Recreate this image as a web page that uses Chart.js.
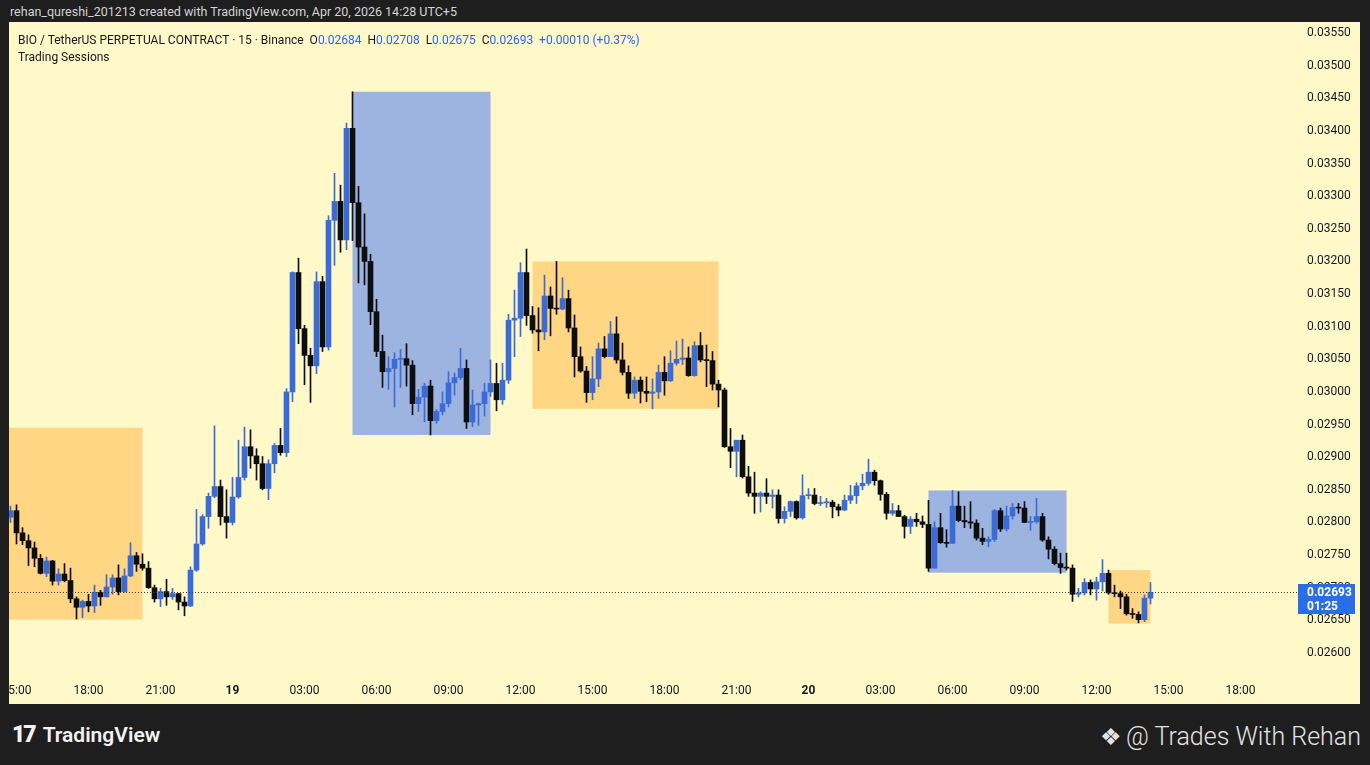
<!DOCTYPE html>
<html>
<head>
<meta charset="utf-8">
<title>BIO / TetherUS 15m</title>
<script src="https://cdn.jsdelivr.net/npm/chart.js@4.4.1/dist/chart.umd.min.js"></script>
<style>
  body { margin: 0; width: 1370px; height: 765px; overflow: hidden; background: #1e1e1e; position: relative; font-family: Roboto, "Noto Sans", sans-serif; }
  #top { position: absolute; left: 10px; top: 4px; color: #d4d4d4; font-size: 12.5px; line-height: 16px; }
  #panel { position: absolute; left: 9px; top: 22px; width: 1351px; height: 682px; background: #fff9c9; }
  #grafico { display: block; }
  #legend { position: absolute; left: 9px; top: 10px; font-size: 12px; line-height: 17px; color: #131722; white-space: pre; }
  #legend .v { color: #2962ff; }
  #tvlogo { position: absolute; left: 12px; top: 721px; color: #f2f2f2; font-size: 21px; font-weight: 600; line-height: 28px; }
  #tvlogo b { font-weight: 900; font-size: 23px; letter-spacing: -2px; margin-right: 8px; }
  #author { position: absolute; right: 9px; top: 722px; color: #e3e3e3; font-size: 25px; font-weight: 300; line-height: 30px; }
  #author span { font-size: 24px; margin-right: 4px; }
</style>
</head>
<body>
<div id="top">rehan_qureshi_201213 created with TradingView.com, Apr 20, 2026 14:28 UTC+5</div>
<div id="panel">
  <canvas id="grafico" width="1351" height="682"></canvas>
  <div id="legend">BIO / TetherUS PERPETUAL CONTRACT · 15 · Binance  O<span class="v">0.02684</span>  H<span class="v">0.02708</span>  L<span class="v">0.02675</span>  C<span class="v">0.02693</span>  <span class="v">+0.00010 (+0.37%)</span>
Trading Sessions</div>
</div>
<div id="tvlogo"><b>17</b>TradingView</div>
<div id="author"><span>❖</span>@ Trades With Rehan</div>

<script>
// 15 minute candles, slot 0 = Apr 18 15:00 (UTC+5), first candle is slot -1
var firstSlot = -1;

var opens = [0.02808,
  0.02818, 0.02784, 0.02772, 0.02761, 0.02745, 0.02722, 0.02741, 0.02710, 0.02721, 0.02711,
  0.02683, 0.02670, 0.02679, 0.02672, 0.02693, 0.02686, 0.02701, 0.02715, 0.02694, 0.02718,
  0.02749, 0.02736, 0.02730, 0.02700, 0.02683, 0.02694, 0.02686, 0.02691, 0.02678, 0.02672,
  0.02727, 0.02767, 0.02809, 0.02840, 0.02855, 0.02809, 0.02800, 0.02839, 0.02869, 0.02916,
  0.02902, 0.02890, 0.02852, 0.02890, 0.02918, 0.02907, 0.03000, 0.03183, 0.03097, 0.03056,
  0.03040, 0.03169, 0.03069, 0.03263, 0.03292, 0.03233, 0.03404, 0.03290, 0.03222, 0.03200,
  0.03123, 0.03062, 0.03031, 0.03036, 0.03050, 0.03051, 0.03041, 0.02982, 0.02992, 0.03009,
  0.02956, 0.02970, 0.02982, 0.03014, 0.03022, 0.03036, 0.02954, 0.02980, 0.02982, 0.03000,
  0.03013, 0.02988, 0.03018, 0.03110, 0.03113, 0.03183, 0.03117, 0.03095, 0.03092, 0.03147,
  0.03128, 0.03127, 0.03143, 0.03098, 0.03054, 0.03032, 0.02999, 0.03020, 0.03066, 0.03054,
  0.03089, 0.03049, 0.03030, 0.02998, 0.03018, 0.03001, 0.02998, 0.03000, 0.03030, 0.03017,
  0.03044, 0.03050, 0.03052, 0.03025, 0.03071, 0.03049, 0.03048, 0.03012, 0.03003, 0.02916,
  0.02909, 0.02926, 0.02870, 0.02845, 0.02840, 0.02845, 0.02840, 0.02842, 0.02806, 0.02817,
  0.02832, 0.02807, 0.02841, 0.02842, 0.02829, 0.02830, 0.02831, 0.02824, 0.02819, 0.02834,
  0.02841, 0.02856, 0.02860, 0.02877, 0.02864, 0.02843, 0.02814, 0.02818, 0.02809, 0.02794,
  0.02805, 0.02801, 0.02797, 0.02730, 0.02792, 0.02769, 0.02768, 0.02825, 0.02803, 0.02801,
  0.02799, 0.02776, 0.02771, 0.02774, 0.02818, 0.02790, 0.02810, 0.02823, 0.02822, 0.02800,
  0.02801, 0.02809, 0.02773, 0.02759, 0.02737, 0.02731, 0.02730, 0.02690, 0.02692, 0.02708,
  0.02698, 0.02709, 0.02722, 0.02692, 0.02691, 0.02686, 0.02660, 0.02659, 0.02651, 0.02684];

var highs = [0.02825,
  0.02827, 0.02792, 0.02781, 0.02770, 0.02751, 0.02747, 0.02742, 0.02729, 0.02737, 0.02730,
  0.02686, 0.02681, 0.02690, 0.02704, 0.02696, 0.02720, 0.02720, 0.02735, 0.02729, 0.02769,
  0.02754, 0.02752, 0.02740, 0.02704, 0.02699, 0.02713, 0.02699, 0.02691, 0.02686, 0.02732,
  0.02820, 0.02812, 0.02845, 0.02948, 0.02865, 0.02850, 0.02869, 0.02926, 0.02946, 0.02942,
  0.02913, 0.02901, 0.02896, 0.02921, 0.02944, 0.03005, 0.03184, 0.03205, 0.03102, 0.03067,
  0.03184, 0.03177, 0.03270, 0.03335, 0.03317, 0.03412, 0.03460, 0.03315, 0.03273, 0.03211,
  0.03142, 0.03087, 0.03054, 0.03060, 0.03065, 0.03074, 0.03048, 0.03004, 0.03013, 0.03018,
  0.02973, 0.03000, 0.03031, 0.03029, 0.03067, 0.03049, 0.03003, 0.02983, 0.03013, 0.03049,
  0.03044, 0.03044, 0.03119, 0.03156, 0.03198, 0.03219, 0.03131, 0.03129, 0.03179, 0.03161,
  0.03200, 0.03175, 0.03156, 0.03118, 0.03069, 0.03039, 0.03054, 0.03075, 0.03085, 0.03108,
  0.03115, 0.03075, 0.03040, 0.03023, 0.03023, 0.03023, 0.03020, 0.03041, 0.03054, 0.03063,
  0.03078, 0.03081, 0.03069, 0.03077, 0.03091, 0.03072, 0.03062, 0.03018, 0.03006, 0.02944,
  0.02926, 0.02934, 0.02886, 0.02877, 0.02847, 0.02867, 0.02850, 0.02850, 0.02824, 0.02833,
  0.02833, 0.02873, 0.02852, 0.02852, 0.02840, 0.02837, 0.02834, 0.02828, 0.02842, 0.02857,
  0.02861, 0.02874, 0.02897, 0.02880, 0.02865, 0.02846, 0.02829, 0.02826, 0.02811, 0.02809,
  0.02814, 0.02810, 0.02834, 0.02801, 0.02814, 0.02789, 0.02849, 0.02847, 0.02825, 0.02832,
  0.02804, 0.02791, 0.02778, 0.02820, 0.02822, 0.02825, 0.02829, 0.02829, 0.02832, 0.02809,
  0.02837, 0.02814, 0.02778, 0.02763, 0.02753, 0.02753, 0.02735, 0.02699, 0.02714, 0.02712,
  0.02716, 0.02743, 0.02727, 0.02704, 0.02695, 0.02690, 0.02668, 0.02663, 0.02689, 0.02708];

var lows = [0.02800,
  0.02767, 0.02766, 0.02734, 0.02732, 0.02721, 0.02717, 0.02704, 0.02704, 0.02709, 0.02677,
  0.02652, 0.02654, 0.02663, 0.02662, 0.02673, 0.02686, 0.02690, 0.02689, 0.02693, 0.02717,
  0.02725, 0.02727, 0.02699, 0.02678, 0.02671, 0.02673, 0.02682, 0.02666, 0.02657, 0.02671,
  0.02725, 0.02765, 0.02791, 0.02838, 0.02796, 0.02776, 0.02796, 0.02837, 0.02865, 0.02883,
  0.02865, 0.02850, 0.02835, 0.02876, 0.02903, 0.02901, 0.02985, 0.03074, 0.03011, 0.02984,
  0.03028, 0.03062, 0.03064, 0.03194, 0.03214, 0.03218, 0.03232, 0.03167, 0.03164, 0.03103,
  0.03054, 0.03007, 0.03004, 0.02977, 0.03007, 0.03009, 0.02965, 0.02970, 0.02954, 0.02934,
  0.02952, 0.02965, 0.02977, 0.02995, 0.03019, 0.02944, 0.02947, 0.02949, 0.02963, 0.02993,
  0.02971, 0.02981, 0.03013, 0.03054, 0.03085, 0.03102, 0.03090, 0.03063, 0.03080, 0.03086,
  0.03119, 0.03126, 0.03092, 0.03023, 0.03030, 0.02984, 0.02988, 0.03008, 0.03052, 0.03054,
  0.03044, 0.03026, 0.02990, 0.02990, 0.02983, 0.02985, 0.02974, 0.02990, 0.02995, 0.03016,
  0.03041, 0.03042, 0.03024, 0.03024, 0.03046, 0.03008, 0.03003, 0.02977, 0.02915, 0.02884,
  0.02870, 0.02868, 0.02840, 0.02814, 0.02816, 0.02829, 0.02822, 0.02799, 0.02799, 0.02809,
  0.02805, 0.02805, 0.02836, 0.02827, 0.02826, 0.02823, 0.02807, 0.02810, 0.02818, 0.02829,
  0.02829, 0.02850, 0.02857, 0.02857, 0.02834, 0.02805, 0.02811, 0.02809, 0.02776, 0.02783,
  0.02794, 0.02792, 0.02725, 0.02730, 0.02768, 0.02762, 0.02768, 0.02801, 0.02792, 0.02791,
  0.02773, 0.02766, 0.02763, 0.02771, 0.02786, 0.02787, 0.02805, 0.02814, 0.02800, 0.02788,
  0.02799, 0.02771, 0.02744, 0.02735, 0.02722, 0.02727, 0.02679, 0.02686, 0.02689, 0.02689,
  0.02681, 0.02695, 0.02690, 0.02686, 0.02668, 0.02658, 0.02653, 0.02646, 0.02648, 0.02675];

var closes = [0.02818,
  0.02784, 0.02772, 0.02761, 0.02745, 0.02722, 0.02741, 0.02710, 0.02721, 0.02711, 0.02683,
  0.02670, 0.02679, 0.02672, 0.02693, 0.02686, 0.02701, 0.02715, 0.02694, 0.02718, 0.02749,
  0.02736, 0.02730, 0.02700, 0.02683, 0.02694, 0.02686, 0.02691, 0.02678, 0.02672, 0.02727,
  0.02767, 0.02809, 0.02840, 0.02855, 0.02809, 0.02800, 0.02839, 0.02869, 0.02916, 0.02902,
  0.02890, 0.02852, 0.02890, 0.02918, 0.02907, 0.03000, 0.03183, 0.03097, 0.03056, 0.03040,
  0.03169, 0.03069, 0.03263, 0.03292, 0.03233, 0.03404, 0.03290, 0.03222, 0.03200, 0.03123,
  0.03062, 0.03031, 0.03036, 0.03050, 0.03051, 0.03041, 0.02982, 0.02992, 0.03009, 0.02956,
  0.02970, 0.02982, 0.03014, 0.03022, 0.03036, 0.02954, 0.02980, 0.02982, 0.03000, 0.03013,
  0.02988, 0.03018, 0.03110, 0.03113, 0.03183, 0.03117, 0.03095, 0.03092, 0.03147, 0.03128,
  0.03127, 0.03143, 0.03098, 0.03054, 0.03032, 0.02999, 0.03020, 0.03066, 0.03054, 0.03089,
  0.03049, 0.03030, 0.02998, 0.03018, 0.03001, 0.02998, 0.03000, 0.03030, 0.03017, 0.03044,
  0.03050, 0.03052, 0.03025, 0.03071, 0.03049, 0.03048, 0.03012, 0.03003, 0.02916, 0.02909,
  0.02926, 0.02870, 0.02845, 0.02840, 0.02845, 0.02840, 0.02842, 0.02806, 0.02817, 0.02832,
  0.02807, 0.02841, 0.02842, 0.02829, 0.02830, 0.02831, 0.02824, 0.02819, 0.02834, 0.02841,
  0.02856, 0.02860, 0.02877, 0.02864, 0.02843, 0.02814, 0.02818, 0.02809, 0.02794, 0.02805,
  0.02801, 0.02797, 0.02730, 0.02792, 0.02769, 0.02768, 0.02825, 0.02803, 0.02801, 0.02799,
  0.02776, 0.02771, 0.02774, 0.02818, 0.02790, 0.02810, 0.02823, 0.02822, 0.02800, 0.02801,
  0.02809, 0.02773, 0.02759, 0.02737, 0.02731, 0.02730, 0.02690, 0.02692, 0.02708, 0.02698,
  0.02709, 0.02722, 0.02692, 0.02691, 0.02686, 0.02660, 0.02659, 0.02651, 0.02684, 0.02693];

// trading session boxes (slots are first and last candle of the session)
var sessionStart = [-10, 56, 86, 152, 182];
var sessionEnd = [21, 79, 117, 175, 189];
var sessionHigh = [0.02945, 0.03460, 0.03200, 0.02849, 0.02727];
var sessionLow = [0.02651, 0.02934, 0.02974, 0.02723, 0.02645];
var sessionType = ['london', 'asia', 'london', 'asia', 'london'];

// time axis labels, one every 12 candles starting at slot 0
var tickLabels = ['15:00', '18:00', '21:00', '19', '03:00', '06:00', '09:00', '12:00', '15:00',
  '18:00', '21:00', '20', '03:00', '06:00', '09:00', '12:00', '15:00', '18:00'];

var lastPrice = 0.02693;
var countdown = '01:25';

var upColor = '#3a6bd6';
var downColor = '#0e0e0e';
var sessionColors = { london: '#ffd784', asia: '#9db3e0' };
var fontFamily = 'Roboto, "Noto Sans", sans-serif';

var wicks = [];
var bodies = [];
var candleColors = [];
for (var i = 0; i < closes.length; i++) {
  wicks.push({ x: i + firstSlot, y: [lows[i], highs[i]] });
  bodies.push({ x: i + firstSlot, y: [opens[i], closes[i]] });
  candleColors.push(closes[i] >= opens[i] ? upColor : downColor);
}

// session rectangles, behind candles
var sessionBoxes = {
  id: 'sessionBoxes',
  beforeDatasetsDraw: function (chart) {
    var c = chart.ctx, xs = chart.scales.x, ys = chart.scales.y, a = chart.chartArea;
    c.save();
    c.beginPath();
    c.rect(a.left, a.top, a.right - a.left, a.bottom - a.top);
    c.clip();
    for (var k = 0; k < sessionStart.length; k++) {
      var x1 = xs.getPixelForValue(sessionStart[k]);
      var x2 = xs.getPixelForValue(sessionEnd[k]);
      var y1 = ys.getPixelForValue(sessionHigh[k]);
      var y2 = ys.getPixelForValue(sessionLow[k]);
      c.fillStyle = sessionColors[sessionType[k]];
      c.fillRect(x1, y1, x2 - x1, y2 - y1);
    }
    c.restore();
  }
};

// dotted last price line and the blue tag on the price scale
var priceTag = {
  id: 'priceTag',
  afterDraw: function (chart) {
    var c = chart.ctx, ys = chart.scales.y, a = chart.chartArea;
    var y = Math.round(ys.getPixelForValue(lastPrice)) + 0.5;
    c.save();
    c.strokeStyle = '#3c3c3c';
    c.lineWidth = 1;
    c.setLineDash([1, 2]);
    c.beginPath();
    c.moveTo(a.left, y);
    c.lineTo(a.right, y);
    c.stroke();
    c.setLineDash([]);
    c.fillStyle = '#2b6de8';
    c.fillRect(ys.left, y - 8.5, 57, 30);
    c.fillStyle = '#ffffff';
    c.font = 'bold 12px ' + fontFamily;
    c.textBaseline = 'middle';
    c.textAlign = 'left';
    c.fillText(lastPrice.toFixed(5), ys.left + 9, y);
    c.fillText(countdown, ys.left + 9, y + 14);
    c.restore();
  }
};

function timeLabel(v) {
  return tickLabels[Math.round(v / 12)] || '';
}

var ctx = document.getElementById('grafico').getContext('2d');
var myChart = new Chart(ctx, {
  type: 'bar',
  data: {
    datasets: [{
      label: 'wick',
      data: wicks,
      backgroundColor: candleColors,
      barThickness: 1,
      grouped: false,
      minBarLength: 1
    }, {
      label: 'body',
      data: bodies,
      backgroundColor: candleColors,
      barThickness: 5,
      grouped: false,
      minBarLength: 1
    }]
  },
  options: {
    responsive: false,
    animation: false,
    layout: { padding: 0 },
    plugins: {
      legend: { display: false },
      tooltip: { enabled: false }
    },
    scales: {
      x: {
        type: 'linear',
        min: -1.25,
        max: 213.583,
        offset: false,
        grid: { display: false, drawTicks: false },
        border: { display: false },
        ticks: {
          stepSize: 12,
          includeBounds: false,
          autoSkip: false,
          maxRotation: 0,
          padding: 8,
          color: '#131722',
          font: function (c) {
            var day = c.tick && timeLabel(c.tick.value).length == 2;
            return { family: fontFamily, size: 12, weight: day ? 'bold' : 'normal' };
          },
          callback: function (v) { return timeLabel(v); }
        },
        afterFit: function (s) { s.height = 28; s.paddingLeft = 0; s.paddingRight = 0; }
      },
      y: {
        position: 'right',
        min: 0.025647,
        max: 0.035669,
        grid: { display: false, drawTicks: false },
        border: { display: false },
        ticks: {
          stepSize: 0.0005,
          includeBounds: false,
          padding: 9,
          color: '#131722',
          font: { family: fontFamily, size: 12 },
          callback: function (v) { return v.toFixed(5); }
        },
        afterFit: function (s) { s.width = 62; s.paddingTop = 0; s.paddingBottom = 0; }
      }
    }
  },
  plugins: [sessionBoxes, priceTag]
});
</script>
</body>
</html>
